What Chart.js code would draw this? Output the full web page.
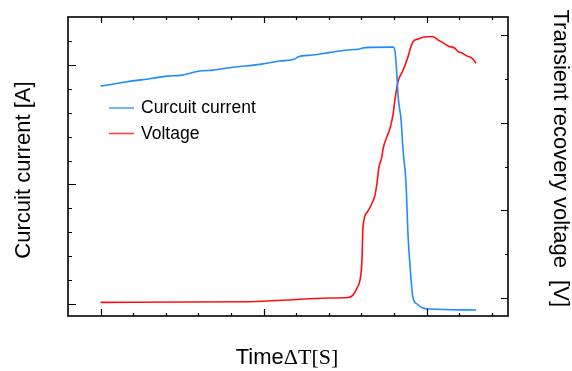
<!DOCTYPE html>
<html>
<head>
<meta charset="utf-8">
<script src="https://cdn.jsdelivr.net/npm/chart.js@4/dist/chart.umd.min.js"></script>
<style>
  html, body { margin: 0; padding: 0; background: #fff; }
  canvas { display: block; }
</style>
</head>
<body>
<canvas id="c" width="572" height="371"></canvas>
<script>
// ---- data (axis units) ----
const currentX = [0, 0.81, 1.61, 2.04, 2.44, 3.05, 3.45, 4.06, 4.89, 5.50, 5.96, 6.05, 6.51, 7.04, 7.56, 7.90, 8.12, 8.98, 9.04, 9.10, 9.13, 9.22, 9.28, 9.37, 9.43, 9.52, 9.58, 9.71, 9.89, 10.11, 11.52];
const currentY = [9.11, 9.29, 9.44, 9.53, 9.56, 9.74, 9.78, 9.90, 10.02, 10.16, 10.24, 10.33, 10.41, 10.52, 10.62, 10.65, 10.72, 10.74, 10.49, 9.36, 8.65, 7.69, 6.44, 5.06, 2.97, 1.13, 0.29, 0.00, -0.17, -0.21, -0.25];
const voltageX = [0, 4.58, 6.12, 7.04, 7.59, 7.75, 7.87, 7.96, 8.02, 8.05, 8.18, 8.33, 8.42, 8.48, 8.54, 8.63, 8.66, 8.88, 8.97, 9.03, 9.12, 9.28, 9.43, 9.49, 9.58, 9.74, 10.01, 10.20, 10.35, 10.56, 10.66, 10.87, 10.96, 11.09, 11.25, 11.40, 11.52];
const voltageY = [-0.09, -0.075, -0.02, 0.01, 0.02, 0.08, 0.24, 0.42, 0.87, 1.62, 1.96, 2.17, 2.35, 2.62, 2.98, 3.22, 3.38, 3.87, 4.17, 4.51, 4.92, 5.19, 5.49, 5.65, 5.83, 5.90, 5.95, 5.95, 5.88, 5.79, 5.74, 5.69, 5.62, 5.58, 5.51, 5.46, 5.35];

// tick positions (no tick labels are shown on the chart)
const xTickValues = [0,1,2,3,4,5,6,7,8,9,10,11,12];
const xMajorTicks = [0,5,10];
const leftTickValues = [0,1,2,3,4,5,6,7,8,9,10,11];
const leftMajorTicks = [0,5,10];
const rightTickValues = [0,1,2,3,4,5,6];
const rightMajorTicks = [0,2,4,6];

const seriesLabels = ['Curcuit current', 'Voltage'];
const xTitle = ['Time', '\u0394T[S]'];
const leftTitle = 'Curcuit current [A]';
const rightTitle = 'Transient recovery voltage  [V]';

const toPts = (xs, ys) => xs.map((x, i) => ({ x: x, y: ys[i] }));

const SANS = '"Liberation Sans", Arial, sans-serif';
const SERIF = '"Liberation Serif", "Times New Roman", serif';

const frame = {
  id: 'frame',
  afterDatasetsDraw(chart) {
    const ctx = chart.ctx;
    const a = chart.chartArea;
    const sx = chart.scales.x, sy = chart.scales.y, sy2 = chart.scales.y2;
    ctx.save();
    ctx.strokeStyle = '#000';
    ctx.lineWidth = 1.6;
    ctx.strokeRect(a.left, a.top, a.right - a.left, a.bottom - a.top);
    ctx.lineWidth = 1.2;
    ctx.beginPath();
    xTickValues.forEach(v => {
      const p = Math.round(sx.getPixelForValue(v)) + 0.5;
      const L = xMajorTicks.includes(v) ? 7 : 3;
      ctx.moveTo(p, a.bottom); ctx.lineTo(p, a.bottom - L);
      const T = xMajorTicks.includes(v) ? 6 : 3;
      ctx.moveTo(p, a.top); ctx.lineTo(p, a.top + T);
    });
    leftTickValues.forEach(v => {
      const p = Math.round(sy.getPixelForValue(v)) + 0.5;
      const L = leftMajorTicks.includes(v) ? 8 : 4;
      ctx.moveTo(a.left, p); ctx.lineTo(a.left + L, p);
    });
    rightTickValues.forEach(v => {
      const p = Math.round(sy2.getPixelForValue(v)) + 0.5;
      const L = rightMajorTicks.includes(v) ? 7 : 3;
      ctx.moveTo(a.right, p); ctx.lineTo(a.right - L, p);
    });
    ctx.stroke();

    // axis titles
    ctx.fillStyle = '#000';
    ctx.textBaseline = 'alphabetic';
    // bottom
    ctx.font = '22px ' + SANS;
    const w1 = ctx.measureText(xTitle[0]).width;
    ctx.font = '22px ' + SERIF;
    const w2 = ctx.measureText(xTitle[1]).width;
    let bx = 287 - (w1 + w2) / 2;
    ctx.font = '22px ' + SANS;
    ctx.textAlign = 'left';
    ctx.fillText(xTitle[0], bx, 364);
    ctx.font = '22px ' + SERIF;
    ctx.fillText(xTitle[1], bx + w1, 364);
    // left
    ctx.font = '22px ' + SANS;
    ctx.save();
    ctx.translate(30, 170);
    ctx.rotate(-Math.PI / 2);
    ctx.textAlign = 'center';
    ctx.fillText(leftTitle, 0, 0);
    ctx.restore();
    // right
    ctx.save();
    ctx.translate(554, 0);
    ctx.rotate(Math.PI / 2);
    ctx.textAlign = 'right';
    ctx.fillText(rightTitle, 307, 0);
    ctx.restore();

    // legend
    ctx.font = '17.5px ' + SANS;
    ctx.textBaseline = 'middle';
    chart.data.datasets.forEach((ds, i) => {
      const y = 108 + i * 25.5;
      ctx.strokeStyle = ds.borderColor;
      ctx.globalAlpha = 0.8;
      ctx.lineWidth = 1.6;
      ctx.beginPath();
      ctx.moveTo(109, y); ctx.lineTo(134, y);
      ctx.stroke();
      ctx.globalAlpha = 1;
      ctx.fillStyle = '#000';
      ctx.textAlign = 'left';
      ctx.fillText(ds.label, 141, y + 0.5);
    });
    ctx.restore();
  }
};

new Chart(document.getElementById('c'), {
  type: 'line',
  data: {
    datasets: [
      { label: seriesLabels[0], data: toPts(currentX, currentY), yAxisID: 'y',
        borderColor: '#1e8cff', borderWidth: 1.6, pointRadius: 0, cubicInterpolationMode: 'monotone', fill: false },
      { label: seriesLabels[1], data: toPts(voltageX, voltageY), yAxisID: 'y2',
        borderColor: '#ff1010', borderWidth: 1.6, pointRadius: 0, cubicInterpolationMode: 'monotone', fill: false }
    ]
  },
  options: {
    responsive: false,
    animation: false,
    layout: { padding: { left: 68, right: 64, top: 17, bottom: 55 } },
    plugins: { legend: { display: false }, tooltip: { enabled: false } },
    scales: {
      x: { type: 'linear', min: -1, max: 12.5, display: false },
      y: { type: 'linear', min: -0.5, max: 12, display: false },
      y2: { type: 'linear', position: 'right', min: -0.4, max: 6.4, display: false }
    }
  },
  plugins: [frame]
});
</script>
</body>
</html>
